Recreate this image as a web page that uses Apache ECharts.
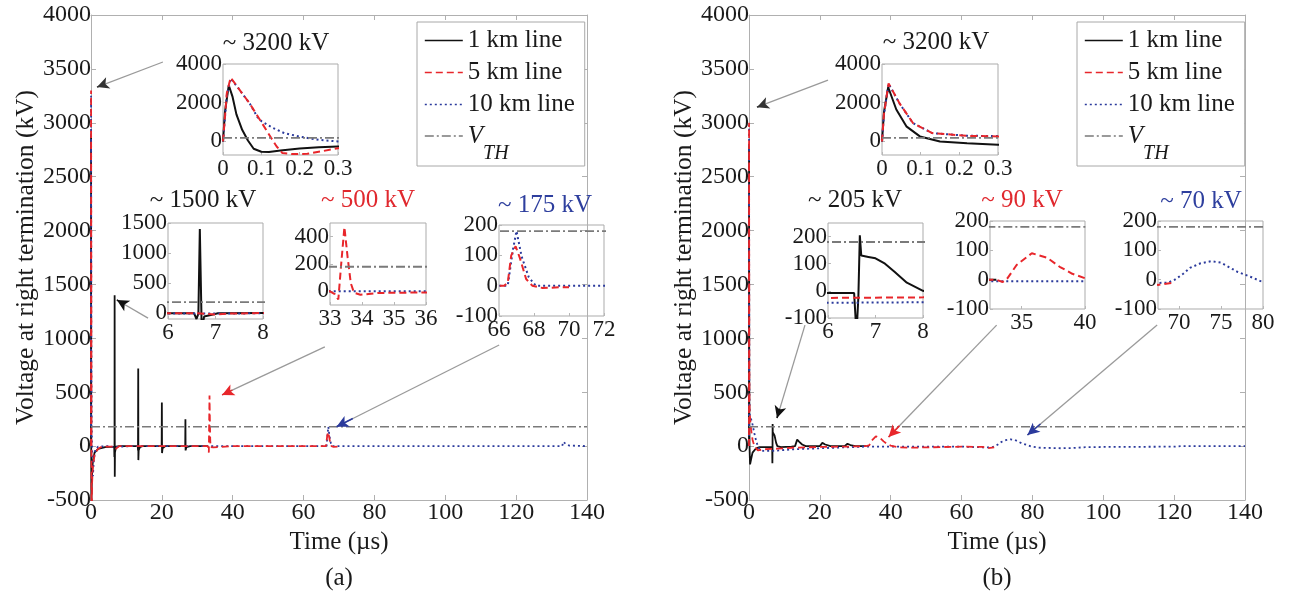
<!DOCTYPE html>
<html><head><meta charset="utf-8">
<script src="https://cdn.jsdelivr.net/npm/echarts@6/dist/echarts.min.js"></script>
<style>html,body{margin:0;padding:0;background:#fff}#c{width:1295px;height:599px}</style>
</head><body><div id="c"></div>
<script>
// ---------------- DATA (time in µs, voltage in kV) ----------------
const a_km1 = [[0,0],[0.005,1500],[0.015,2900],[0.025,2300],[0.035,1400],[0.05,600],[0.065,50],[0.08,-380],[0.1,-530],[0.12,-550],[0.15,-470],[0.2,-370],[0.25,-300],[0.3,-260],[0.5,-150],[1,-60],[2,-25],[4,-10],[6.55,-5],[6.6,-100],[6.64,-10],[6.67,1400],[6.71,-285],[6.76,-60],[6.9,-35],[7.05,-5],[8,0],[13.2,0],[13.27,-40],[13.33,720],[13.37,-130],[13.45,-40],[13.8,-10],[14.5,0],[19.95,0],[20.0,405],[20.05,-65],[20.2,-20],[21,0],[26.6,0],[26.65,250],[26.7,-40],[26.9,-10],[28,0],[33,0]];
const a_km5 = [[0,0],[0.01,2500],[0.02,3300],[0.04,2750],[0.07,1950],[0.1,1000],[0.125,200],[0.14,-260],[0.155,-600],[0.18,-650],[0.22,-640],[0.26,-500],[0.3,-350],[0.5,-200],[1,-80],[2,-25],[3,-5],[6.6,-5],[7.0,-25],[7.3,-10],[8,0],[33.0,0],[33.15,-20],[33.26,-60],[33.35,200],[33.45,470],[33.55,250],[33.65,60],[33.75,-10],[33.95,-25],[34.5,-12],[36,-8],[40,0],[66.3,0],[66.5,10],[66.7,100],[66.95,130],[67.2,90],[67.55,22],[67.9,0],[68.5,-8],[69.6,-5],[70,-5]];
const a_km10 = [[0,0],[0.01,2400],[0.02,3250],[0.04,2750],[0.07,1950],[0.09,1250],[0.1,1050],[0.13,700],[0.16,430],[0.2,250],[0.25,80],[0.3,0],[0.4,-150],[0.55,-280],[0.75,-150],[1.2,-30],[2,-5],[5,0],[6.6,-10],[8,-5],[12,0],[33,0],[36,0],[66.5,0],[66.8,120],[67.0,180],[67.3,95],[67.7,28],[68.1,0],[72,0],[133,0],[133.3,40],[134,20],[135,5],[140,0]];

const b_km1 = [[0,0],[0.005,1500],[0.016,2800],[0.037,1650],[0.063,780],[0.098,260],[0.15,0],[0.22,-90],[0.3,-170],[0.6,-120],[1,-60],[2,-20],[3,-10],[6.55,-8],[6.6,-160],[6.64,-20],[6.67,205],[6.7,130],[6.85,125],[7.0,120],[7.2,100],[7.4,70],[7.66,30],[8,0],[9,-10],[12,-5],[13,0],[13.6,60],[14.2,40],[15,15],[16,0],[20,0],[20.7,30],[21.5,15],[23,0],[27,0],[27.8,22],[28.6,10],[30,0],[33,0]];
const b_km5 = [[0,0],[0.005,1400],[0.017,3000],[0.045,1980],[0.08,950],[0.13,430],[0.22,290],[0.3,260],[0.6,150],[1,60],[1.5,0],[2.5,-40],[4,-30],[6,-26],[8,-24],[12,-15],[20,-8],[30,-3],[33,0],[33.5,-8],[33.9,6],[34.6,50],[35.8,90],[37,75],[38,44],[39,20],[40,5],[42,-10],[45,-15],[50,-12],[60,-5],[66,-8],[67.5,-18],[69.2,-11]];
const b_km10 = [[0,0],[0.005,1380],[0.017,2980],[0.045,1970],[0.08,950],[0.13,430],[0.22,295],[0.3,275],[0.6,250],[1,200],[1.5,120],[2,50],[2.5,0],[3,-30],[4,-45],[6,-44],[8,-42],[12,-30],[20,-20],[32.5,-5],[40,-5],[60,-5],[67,-12],[68.7,-10],[69.5,0],[70.5,20],[71.3,40],[72.5,55],[73.8,63],[75,58],[77,26],[78.5,10],[79.7,-5],[82,-15],[88,-20],[91,-18],[95,-10],[100,-8],[120,-5],[122,0],[140,0]];

const vth = [[0,180],[140,180]];

// tick labels
const mainXTicks = [0,20,40,60,80,100,120,140];
const mainYTicks = [-500,0,500,1000,1500,2000,2500,3000,3500,4000];
const tStartTicks = [0,0.1,0.2,0.3];
const vStartTicks = [0,2000,4000];
const t6Ticks = [6,7,8];
const a2VTicks = [0,500,1000,1500];
const a3TTicks = [33,34,35,36];
const a3VTicks = [0,200,400];
const a4TTicks = [66,68,70,72];
const smallVTicks = [-100,0,100,200];
const b3TTicks = [35,40];
const b4TTicks = [70,75,80];

const seriesNames = ['1 km line','5 km line','10 km line','V_TH'];

// annotations (arrows in main-axis data coords)
const arrowsA = [[[20.3,3564],[1.7,3331],'#333'],[[16.1,1188],[7.3,1356],'#111'],[[66.0,920],[37.0,475],'#e8262b'],[[115.2,938],[69.3,180],'#2b3a9c']];
const arrowsB = [[[22.3,3396],[2.25,3145],'#333'],[[15.8,1123],[7.9,260],'#111'],[[69.9,1123],[39.4,84],'#e8262b'],[[115.2,1123],[78.6,103],'#2b3a9c']];

// ---------------- STYLE ----------------
const FONT = 'Liberation Serif';
const TXT = '#1a1a1a';
const C_BLACK = '#111111', C_RED = '#e8262b', C_BLUE = '#2b3a9c', C_VTH = '#7a7a7a';
const AX = '#b0b0b0';
const plain = v => String(v);

const grids = [], xAxes = [], yAxes = [], series = [];

function mainPanel(left, dataSet, arrows) {
  const gi = grids.length;
  grids.push({left: left, top: 15, width: 496, height: 485, show: false});
  const xi = xAxes.length, yi = yAxes.length;
  xAxes.push({type:'value', gridIndex: gi, min: mainXTicks[0], max: mainXTicks[mainXTicks.length-1], interval: 20,
    axisLine:{show:true, onZero:false, lineStyle:{color:AX}},
    axisTick:{inside:true, length:5, lineStyle:{color:AX}},
    splitLine:{show:false},
    axisLabel:{fontSize:24, fontFamily:FONT, color:TXT, margin:1, formatter: plain},
    name:'Time (µs)', nameLocation:'middle', nameGap:24,
    nameTextStyle:{fontSize:25, fontFamily:FONT, color:TXT}});
  xAxes.push({type:'value', gridIndex: gi, position:'top', min: 0, max: 140, interval: 20,
    axisLine:{show:true, onZero:false, lineStyle:{color:AX}},
    axisTick:{inside:true, length:5, lineStyle:{color:AX}},
    splitLine:{show:false}, axisLabel:{show:false}});
  yAxes.push({type:'value', gridIndex: gi, min: mainYTicks[0], max: mainYTicks[mainYTicks.length-1], interval: 500,
    axisLine:{show:true, onZero:false, lineStyle:{color:AX}},
    axisTick:{inside:true, length:5, lineStyle:{color:AX}},
    splitLine:{show:false},
    axisLabel:{fontSize:24, fontFamily:FONT, color:TXT, margin:0, formatter: plain},
    name:'Voltage at right termination (kV)', nameLocation:'middle', nameGap:49, nameRotate:90,
    nameTextStyle:{fontSize:25.5, fontFamily:FONT, color:TXT}});
  yAxes.push({type:'value', gridIndex: gi, position:'right', min: -500, max: 4000, interval: 500,
    axisLine:{show:true, onZero:false, lineStyle:{color:AX}},
    axisTick:{inside:true, length:5, lineStyle:{color:AX}},
    splitLine:{show:false}, axisLabel:{show:false}});
  addLines(dataSet, xi, yi, 1.8, arrows);
}

function insetPanel(box, xr, xt, yr, yt, dataSet) {
  const gi = grids.length;
  grids.push({left: box[0], top: box[1], width: box[2], height: box[3], show: true,
    backgroundColor:'#ffffff', borderColor:'#ababab', borderWidth:1});
  const xi = xAxes.length, yi = yAxes.length;
  xAxes.push({type:'value', gridIndex: gi, min: xr[0], max: xr[1],
    axisLine:{show:false, onZero:false},
    axisTick:{show:true, inside:true, length:3, customValues: xt, lineStyle:{color:'#b8b8b8'}},
    splitLine:{show:false},
    axisLabel:{customValues: xt, fontSize:23, fontFamily:FONT, color:TXT, margin:2, formatter: plain, showMinLabel:true, showMaxLabel:true}});
  yAxes.push({type:'value', gridIndex: gi, min: yr[0], max: yr[1],
    axisLine:{show:false, onZero:false},
    axisTick:{show:true, inside:true, length:3, customValues: yt, lineStyle:{color:'#b8b8b8'}},
    splitLine:{show:false},
    axisLabel:{customValues: yt, fontSize:23, fontFamily:FONT, color:TXT, margin:1, formatter: plain, showMinLabel:true, showMaxLabel:true}});
  addLines(dataSet, xi, yi, 2, null);
}

function addLines(ds, xi, yi, lw, arrows) {
  const common = {type:'line', xAxisIndex: xi, yAxisIndex: yi, symbol:'none', showSymbol:false,
    clip:true, silent:true, animation:false};
  series.push(Object.assign({name:seriesNames[0], data: ds[0],
    lineStyle:{color:C_BLACK, width:lw, type:'solid'}, itemStyle:{color:C_BLACK}}, common));
  series.push(Object.assign({name:seriesNames[2], data: ds[2],
    lineStyle:{color:C_BLUE, width:lw, type:[2,3]}, itemStyle:{color:C_BLUE}}, common));
  series.push(Object.assign({name:seriesNames[1], data: ds[1],
    lineStyle:{color:C_RED, width:lw, type:[7,4]}, itemStyle:{color:C_RED}}, common));
  const v = Object.assign({name:seriesNames[3], data: vth,
    lineStyle:{color:C_VTH, width:lw*0.9, type:[9,3,2,3]}, itemStyle:{color:C_VTH}}, common);
  if (arrows) {
    const items = [];
    arrows.forEach(a => {
      const s = a[0], t = a[1], col = a[2], k = 0.9;
      const m = [s[0] + (t[0]-s[0])*k, s[1] + (t[1]-s[1])*k];
      items.push([{coord:s, symbol:'none', lineStyle:{color:'#9a9a9a', width:1.3, type:'solid'}}, {coord:t, symbol:'none'}]);
      items.push([{coord:m, symbol:'none', lineStyle:{color:col, width:1.5, type:'solid'}}, {coord:t, symbol:'arrow'}]);
    });
    v.markLine = {silent:true, animation:false, symbolSize:[9,12], label:{show:false},
      emphasis:{disabled:true}, data: items};
  }
  series.push(v);
}

const setA = [a_km1, a_km5, a_km10];
const setB = [b_km1, b_km5, b_km10];

mainPanel(91, setA, arrowsA);
mainPanel(749, setB, arrowsB);

insetPanel([223,64,115,91], [0,0.3], tStartTicks, [-700,4000], vStartTicks, setA);
insetPanel([168,223,95,96], [6,8], t6Ticks, [-100,1500], a2VTicks, setA);
insetPanel([330,223,96,82], [33,36], a3TTicks, [-100,500], a3VTicks, setA);
insetPanel([499,225,105,91], [66,72], a4TTicks, [-100,200], smallVTicks, setA);
insetPanel([882,64,116,91], [0,0.3], tStartTicks, [-700,4000], vStartTicks, setB);
insetPanel([828,223,95,95], [6,8], t6Ticks, [-100,250], smallVTicks, setB);
insetPanel([990,221,95,88], [32.5,40], b3TTicks, [-100,200], smallVTicks, setB);
insetPanel([1158,221,105,88], [67.5,80], b4TTicks, [-100,200], smallVTicks, setB);

function makeLegend(left) {
  return {show:true, left:left, top:22, orient:'vertical', data: seriesNames,
    itemWidth:38, itemHeight:14, itemGap:7, padding:[6,10,2,7],
    backgroundColor:'#ffffff', borderColor:'#a8a8a8', borderWidth:1, selectedMode:false,
    itemStyle:{opacity:0, borderWidth:0},
    lineStyle:{width:1.6},
    formatter: n => n === 'V_TH' ? '{v|V}{s|TH}' : n,
    textStyle:{fontFamily:FONT, fontSize:25, color:TXT, lineHeight:24,
      rich:{
        v:{fontFamily:FONT, fontSize:25, fontStyle:'italic', color:TXT, lineHeight:24, verticalAlign:'top'},
        s:{fontFamily:FONT, fontSize:20, fontStyle:'italic', color:TXT, lineHeight:20, padding:[20,0,0,0], verticalAlign:'top'}
      }}};
}

const insetTitles = [
  {text:'~ 3200 kV', x:276, y:43, color:TXT},
  {text:'~ 1500 kV', x:203, y:200, color:TXT},
  {text:'~ 500 kV', x:368, y:200, color:'#e0282e'},
  {text:'~ 175 kV', x:545, y:205, color:'#2e3f9e'},
  {text:'~ 3200 kV', x:936, y:42, color:TXT},
  {text:'~ 205 kV', x:855, y:200, color:TXT},
  {text:'~ 90 kV', x:1022, y:200, color:'#e0282e'},
  {text:'~ 70 kV', x:1201, y:201, color:'#2e3f9e'},
  {text:'(a)', x:339, y:578, color:TXT},
  {text:'(b)', x:997, y:578, color:TXT}
];

const chart = echarts.init(document.getElementById('c'), null, {renderer:'canvas'});
chart.setOption({
  animation:false,
  backgroundColor:'#ffffff',
  grid: grids, xAxis: xAxes, yAxis: yAxes, series: series,
  legend: [makeLegend(417), makeLegend(1077)],
  graphic: {elements: insetTitles.map(t => ({type:'text', x:t.x, y:t.y, z:100, silent:true,
    style:{text:t.text, fill:t.color, fontSize:25, fontFamily:FONT, align:'center', verticalAlign:'middle'}}))}
});
</script></body></html>
